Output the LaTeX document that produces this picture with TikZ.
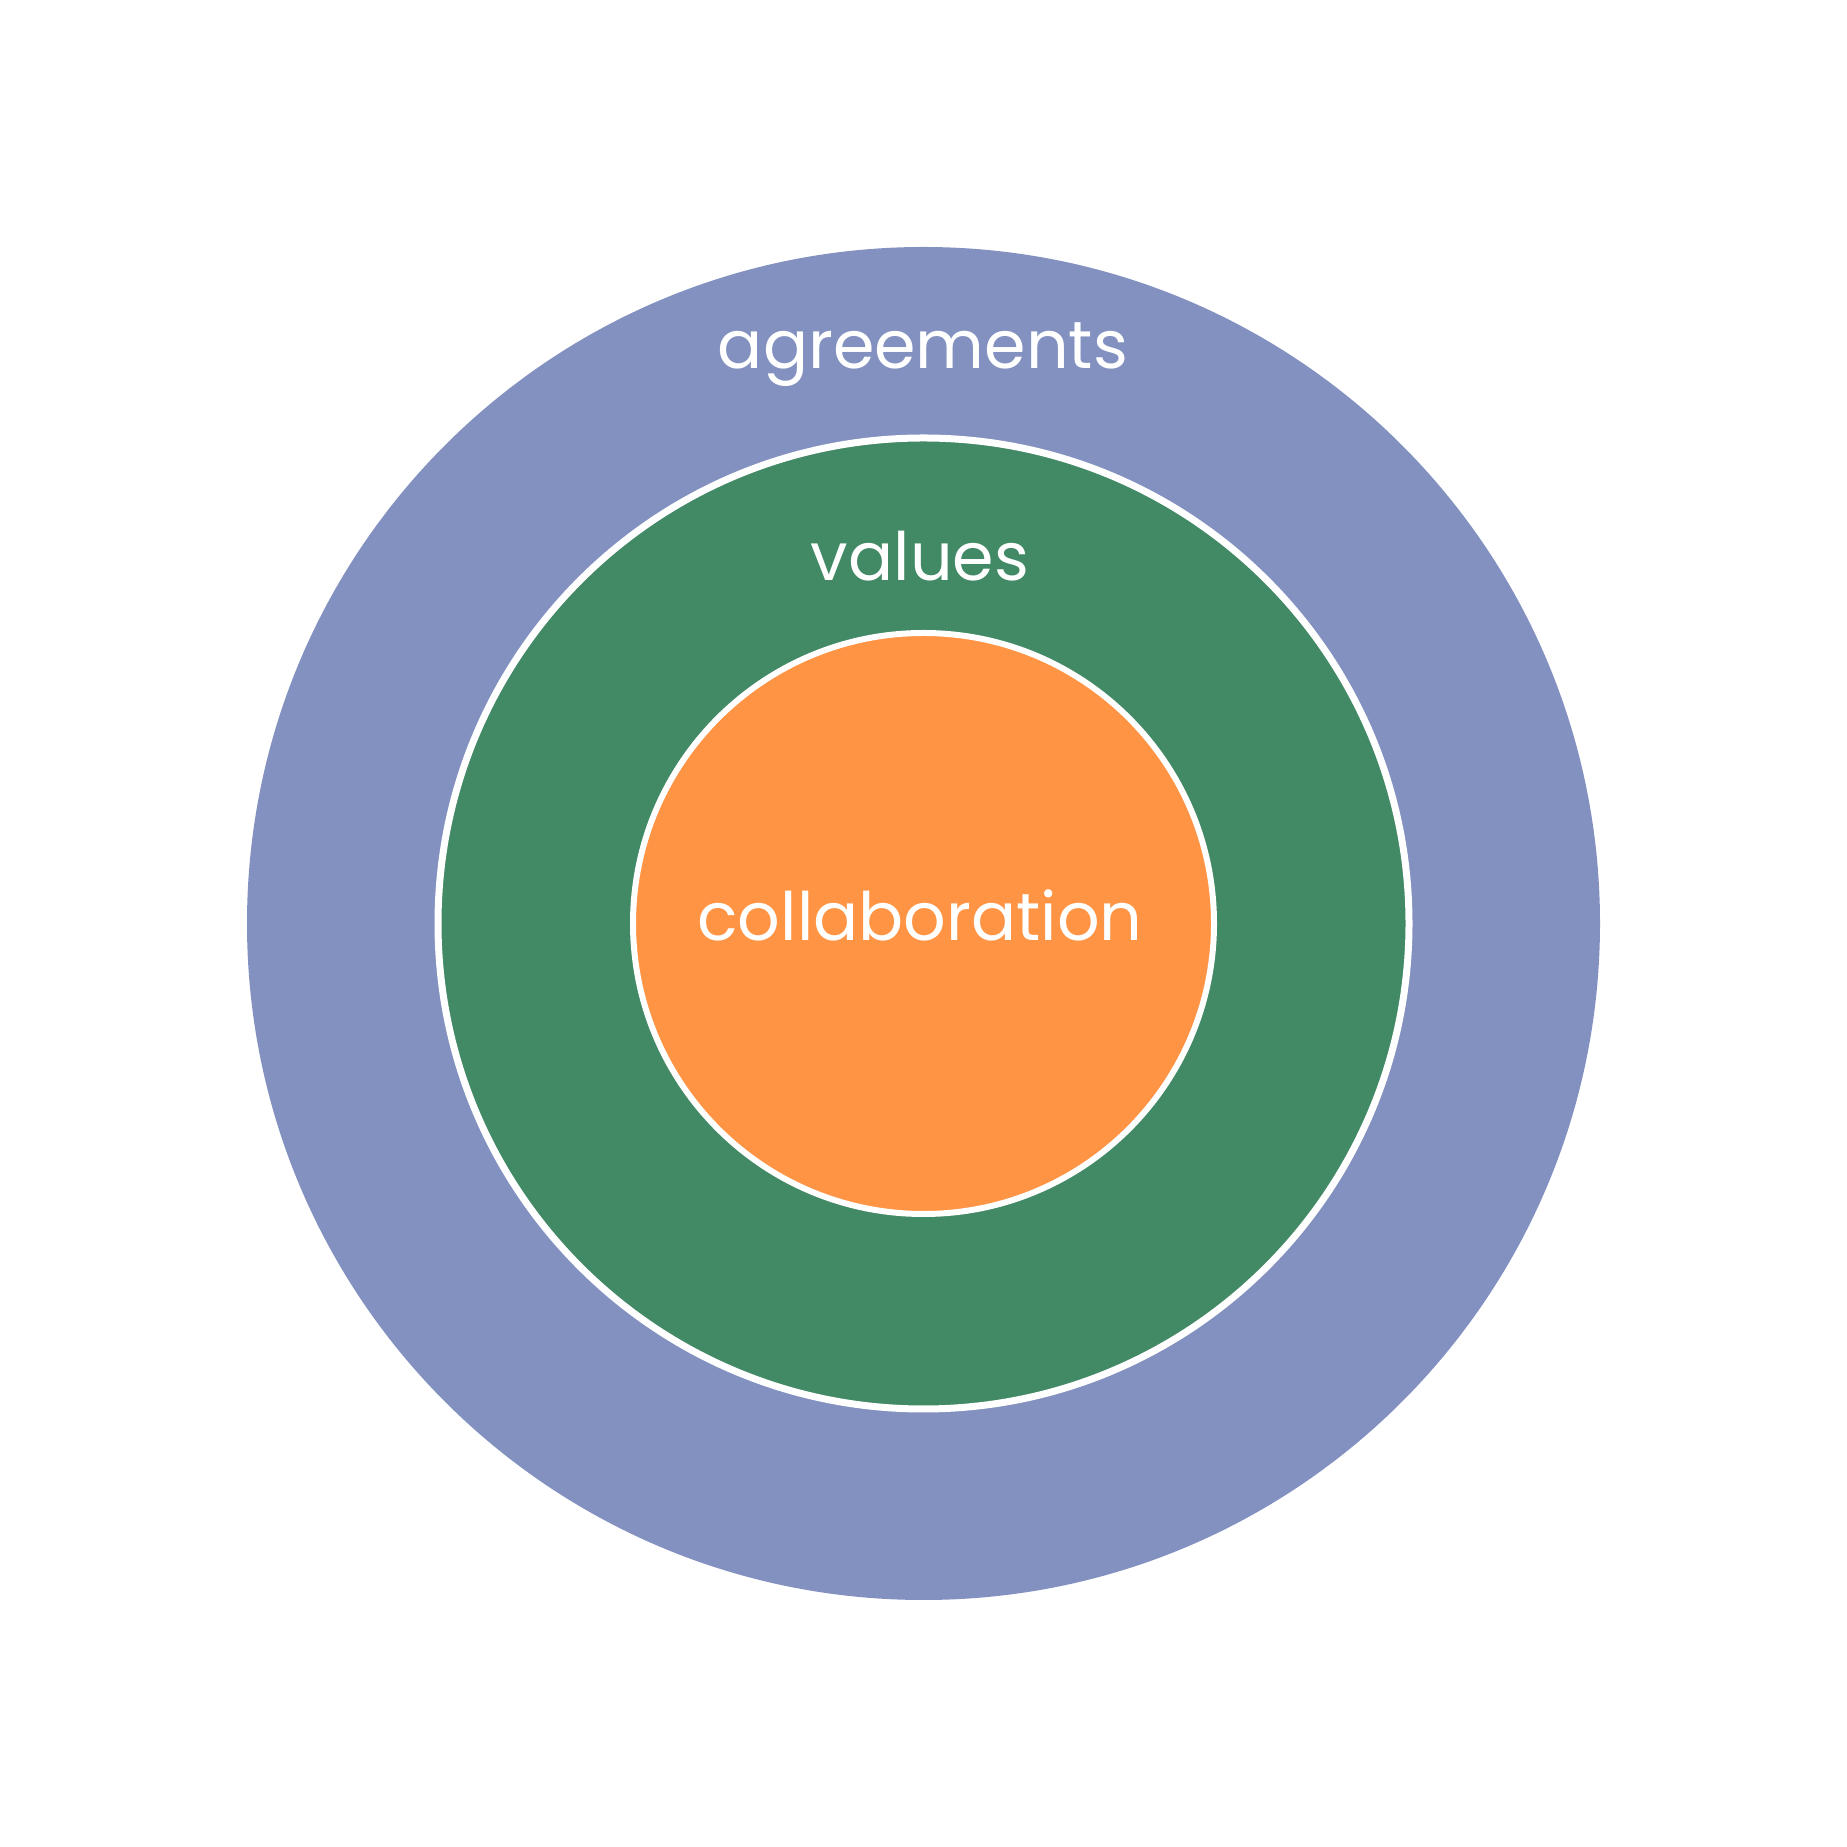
\documentclass[tikz,border=0pt]{standalone}
\usepackage{fontspec}
\setmainfont{Poppins}
\definecolor{agreeblue}{HTML}{8391C1}
\definecolor{valgreen}{HTML}{428966}
\definecolor{collorange}{HTML}{FF9444}
\begin{document}
\begin{tikzpicture}
\useasboundingbox (0,0) rectangle (18.47,18.47);
\tikzset{
  ringlabel/.style={text=white, inner sep=0pt, anchor=base, font=\fontsize{19pt}{23pt}\selectfont},
}
\fill[agreeblue] (9.235,9.235) circle[radius=6.765cm];
\draw[fill=valgreen, draw=white, line width=0.07cm] (9.235,9.235) circle[radius=4.855cm];
\draw[fill=collorange, draw=white, line width=0.06cm] (9.235,9.235) circle[radius=2.905cm];
\node[ringlabel] (agreements) at (9.23,14.78) {agreements};
\node[ringlabel] (values) at (9.20,12.66) {values};
\node[ringlabel] (collaboration) at (9.20,9.06) {collaboration};
\end{tikzpicture}
\end{document}
